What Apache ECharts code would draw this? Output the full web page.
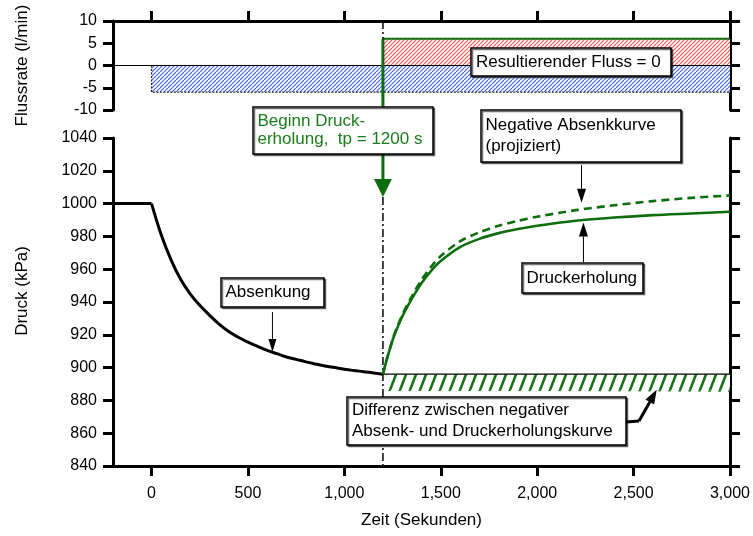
<!DOCTYPE html>
<html>
<head>
<meta charset="utf-8">
<script src="https://cdn.jsdelivr.net/npm/echarts@6/dist/echarts.min.js"></script>
<style>
html,body{margin:0;padding:0;background:#fff}
#c{width:753px;height:536px}
</style>
</head>
<body>
<div id="c"></div>
<script>
// Flow periods in the upper panel (pumping and the imaginary injection after shut-in)
const flowStart = [0, 1200];
const flowEnd = [3000, 3000];
const flowRate = [-6, 6];

// Drawdown while pumping
const staticTime = [-200, 0];
const staticPressure = [1000, 1000];
const drawdownTime = [0, 50, 100, 150, 200, 250, 300, 350, 400, 450, 500, 550, 600, 650, 700, 750, 800, 850, 900, 950, 1000, 1050, 1100, 1150, 1200];
const drawdownPressure = [1000, 981, 966, 954, 945, 938, 932, 926.5, 922, 918.5, 915.5, 913, 910.5, 908.5, 906.5, 905, 903.5, 902.2, 901, 900, 899, 898.2, 897.5, 896.7, 896];

// Recovery after the pump stops, and the projected (negative) drawdown curve
const recoveryTime = [1200, 1220, 1240, 1260, 1300, 1350, 1400, 1450, 1500, 1600, 1700, 1800, 1900, 2000, 2200, 2400, 2600, 2800, 3000];
const recoveryPressure = [896, 905, 913, 920, 931, 942, 951.5, 959, 965, 973.5, 978.5, 982, 984.5, 986.5, 989.5, 991.5, 993, 994, 995];
const projectedPressure = [896, 905, 913, 920.5, 932, 943.5, 953.5, 961.5, 968, 977, 982.5, 986.5, 989.5, 992, 996, 999, 1001.5, 1003.5, 1005];

// Band showing the difference between the two curves
const diffTime = [1220, 1600, 2000, 2400, 2800, 3000];
const diffTop = [896, 896, 896, 896, 896, 896];
const diffBottom = [885.8, 885.7, 885.7, 885.6, 885.5, 885.2];

const xTicks = [0, 500, 1000, 1500, 2000, 2500, 3000];
const pumpStop = 1200;

const FONT = '"Liberation Sans", Arial, Helvetica, sans-serif';
const GREEN = '#0e6e0e';
const TEXT_GREEN = '#1c7c1c';

const pairs = (xs, ys) => xs.map((x, i) => [x, ys[i]]);

// Diagonal hatch tiles used as pattern fills
function hatch(w, h, color, lw) {
  const c = document.createElement('canvas');
  c.width = w; c.height = h;
  const g = c.getContext('2d');
  g.fillStyle = '#fff';
  g.fillRect(0, 0, w, h);
  g.strokeStyle = color;
  g.lineWidth = lw;
  for (const dx of [-w, 0, w]) {
    g.beginPath();
    g.moveTo(dx, h);
    g.lineTo(dx + w, 0);
    g.stroke();
  }
  return { image: c, repeat: 'repeat' };
}
const bluePattern = hatch(4, 4, '#3d62e6', 1.1);
const redPattern = hatch(4, 4, '#ff4d4d', 1.1);
const greenPattern = hatch(10, 26, '#137313', 2.6);

const axisLineStyle = { show: true, onZero: false, lineStyle: { color: '#000', width: 3 } };
const tickStyle = { show: true, length: 10, lineStyle: { color: '#000', width: 3 } };
const labelStyle = { color: '#000', fontSize: 16, fontFamily: FONT };
const nameStyle = { color: '#000', fontSize: 17, fontFamily: FONT };
const plain = v => String(v);

const chart = echarts.init(document.getElementById('c'), null, { renderer: 'canvas' });

chart.setOption({
  animation: false,
  backgroundColor: '#fff',
  grid: [
    { left: 113, right: 23, top: 21, height: 89 },
    { left: 113, right: 23, top: 138, height: 328 }
  ],
  xAxis: [
    {
      gridIndex: 0, type: 'value', position: 'top', min: -200, max: 3000,
      axisLine: axisLineStyle,
      axisTick: Object.assign({ customValues: xTicks }, tickStyle),
      axisLabel: { show: false },
      splitLine: { show: false }
    },
    {
      gridIndex: 1, type: 'value', position: 'bottom', min: -200, max: 3000,
      axisLine: axisLineStyle,
      axisTick: Object.assign({ customValues: xTicks }, tickStyle),
      axisLabel: Object.assign({
        customValues: xTicks, margin: 20,
        formatter: v => Number(v).toLocaleString('en-US')
      }, labelStyle),
      splitLine: { show: false },
      name: 'Zeit (Sekunden)', nameLocation: 'middle', nameGap: 46,
      nameTextStyle: nameStyle
    }
  ],
  yAxis: [
    {
      gridIndex: 0, type: 'value', position: 'left', min: -10, max: 10, interval: 5,
      axisLine: axisLineStyle, axisTick: tickStyle,
      axisLabel: Object.assign({ margin: 16, formatter: plain }, labelStyle),
      splitLine: { show: false },
      name: 'Flussrate (l/min)', nameLocation: 'middle', nameGap: 82,
      nameTextStyle: nameStyle
    },
    {
      gridIndex: 0, type: 'value', position: 'right', min: -10, max: 10, interval: 5,
      axisLine: axisLineStyle, axisTick: tickStyle,
      axisLabel: { show: false }, splitLine: { show: false }
    },
    {
      gridIndex: 1, type: 'value', position: 'left', min: 840, max: 1040, interval: 20,
      axisLine: axisLineStyle, axisTick: tickStyle,
      axisLabel: Object.assign({ margin: 16, formatter: plain }, labelStyle),
      splitLine: { show: false },
      name: 'Druck (kPa)', nameLocation: 'middle', nameGap: 82,
      nameTextStyle: Object.assign({ padding: [0, 0, 0, 22] }, nameStyle)
    },
    {
      gridIndex: 1, type: 'value', position: 'right', min: 840, max: 1040, interval: 20,
      axisLine: axisLineStyle, axisTick: tickStyle,
      axisLabel: { show: false }, splitLine: { show: false }
    }
  ],
  series: [
    // Upper panel: hatched flow blocks
    {
      type: 'custom', xAxisIndex: 0, yAxisIndex: 0, z: 2,
      data: flowStart.map((s, i) => [s, flowEnd[i], flowRate[i]]),
      encode: { x: [0, 1], y: 2 },
      renderItem: (params, api) => {
        const s = api.value(0), e = api.value(1), r = api.value(2);
        const a = api.coord([s, r]);
        const b = api.coord([e, 0]);
        const y = Math.min(a[1], b[1]);
        const h = Math.abs(b[1] - a[1]);
        const children = [{
          type: 'rect',
          shape: { x: a[0], y: y, width: b[0] - a[0], height: h },
          style: { fill: r > 0 ? redPattern : bluePattern }
        }];
        if (r > 0) {
          children.push({
            type: 'line',
            shape: { x1: a[0], y1: a[1], x2: b[0], y2: a[1] },
            style: { stroke: GREEN, lineWidth: 2 }
          });
        } else {
          children.push({
            type: 'polyline',
            shape: { points: [[a[0], b[1]], [a[0], a[1]], [b[0], a[1]]] },
            style: { stroke: '#222', lineWidth: 1.3, lineDash: [2, 1.5], fill: null }
          });
        }
        return { type: 'group', children };
      }
    },
    {
      type: 'line', xAxisIndex: 0, yAxisIndex: 0, z: 3,
      data: [[-200, 0], [3000, 0]], symbol: 'none',
      lineStyle: { color: '#000', width: 1 }
    },
    {
      type: 'line', xAxisIndex: 0, yAxisIndex: 0, z: 3,
      data: [[pumpStop, 10], [pumpStop, -10]], symbol: 'none',
      lineStyle: { color: '#000', width: 1.5, type: [8, 3, 2, 3] }
    },
    // Lower panel: difference band
    {
      type: 'custom', xAxisIndex: 1, yAxisIndex: 2, z: 2,
      data: [[diffTime[0], diffTop[0]]],
      encode: { x: 0, y: 1 },
      renderItem: (params, api) => {
        const top = diffTime.map((t, i) => api.coord([t, diffTop[i]]));
        const bottom = diffTime.map((t, i) => api.coord([t, diffBottom[i]])).reverse();
        return {
          type: 'polygon',
          shape: { points: top.concat(bottom) },
          style: { fill: greenPattern }
        };
      }
    },
    {
      type: 'line', xAxisIndex: 1, yAxisIndex: 2, z: 3,
      data: [[pumpStop, 896], [3000, 896]], symbol: 'none',
      lineStyle: { color: '#000', width: 1.2 }
    },
    {
      type: 'line', xAxisIndex: 1, yAxisIndex: 2, z: 3,
      data: [[pumpStop, 1004], [pumpStop, 840]], symbol: 'none',
      lineStyle: { color: '#000', width: 1.5, type: [8, 3, 2, 3] }
    },
    {
      type: 'line', xAxisIndex: 1, yAxisIndex: 2, z: 4,
      data: pairs(staticTime, staticPressure), symbol: 'none',
      lineStyle: { color: '#000', width: 3 }
    },
    {
      type: 'line', xAxisIndex: 1, yAxisIndex: 2, z: 4,
      data: pairs(drawdownTime, drawdownPressure), symbol: 'none', smooth: 0.4,
      lineStyle: { color: '#000', width: 3 }
    },
    {
      type: 'line', xAxisIndex: 1, yAxisIndex: 2, z: 4,
      data: pairs(recoveryTime, projectedPressure), symbol: 'none', smooth: 0.3,
      lineStyle: { color: GREEN, width: 2.6, type: [8, 5] }
    },
    {
      type: 'line', xAxisIndex: 1, yAxisIndex: 2, z: 5,
      data: pairs(recoveryTime, recoveryPressure), symbol: 'none', smooth: 0.3,
      lineStyle: { color: GREEN, width: 2.6 }
    }
  ]
});

// ----- annotations -----
const up = (t, v) => chart.convertToPixel({ xAxisIndex: 0, yAxisIndex: 0 }, [t, v]);
const lo = (t, v) => chart.convertToPixel({ xAxisIndex: 1, yAxisIndex: 2 }, [t, v]);

function arrow(x1, y1, x2, y2, lw, hl, hw, color, z) {
  const ang = Math.atan2(y2 - y1, x2 - x1);
  const bx = x2 - hl * Math.cos(ang), by = y2 - hl * Math.sin(ang);
  const nx = -Math.sin(ang) * hw / 2, ny = Math.cos(ang) * hw / 2;
  return [
    { type: 'line', z, shape: { x1, y1, x2: bx, y2: by }, style: { stroke: color, lineWidth: lw } },
    { type: 'polygon', z, shape: { points: [[x2, y2], [bx + nx, by + ny], [bx - nx, by - ny]] }, style: { fill: color } }
  ];
}

function box(x, y, w, h, text, color, lh, pad) {
  return [
    {
      type: 'rect', z: 100, shape: { x, y, width: w, height: h },
      style: {
        fill: '#fff', stroke: '#000', lineWidth: 1.5,
        shadowColor: 'rgba(0,0,0,0.55)', shadowOffsetX: 1.5, shadowOffsetY: 1.5, shadowBlur: 0
      }
    },
    {
      type: 'text', z: 101, x: x + pad, y: y + h / 2,
      style: {
        text, fill: color, fontSize: 17, fontFamily: FONT,
        verticalAlign: 'middle', align: 'left', lineHeight: lh
      }
    }
  ];
}

const g = [];

// green marker for the start of recovery
const gTop = up(pumpStop, 6);
const gTip = lo(pumpStop, 1004);
g.push(...arrow(gTop[0], gTop[1], gTip[0], gTip[1], 3, 18, 18, GREEN, 50));

// Absenkung
const tipA = lo(627, 909.5);
g.push(...arrow(tipA[0], 312, tipA[0], tipA[1], 1, 13, 8, '#000', 90));
g.push(...box(221, 278, 103, 29, 'Absenkung', '#000', 20, 4.5));

// Negative Absenkkurve (projiziert)
const tipN = lo(2230, 1000.5);
g.push(...arrow(tipN[0], 165, tipN[0], tipN[1], 1, 14, 9, '#000', 90));
g.push(...box(481, 110, 200, 52, 'Negative Absenkkurve\n(projiziert)', '#000', 20.5, 4.5));

// Druckerholung
const tipD = lo(2240, 988.5);
g.push(...arrow(tipD[0], 262, tipD[0], tipD[1], 1, 14, 9, '#000', 90));
g.push(...box(522, 263, 121, 30, 'Druckerholung', '#000', 20, 4.5));

// Differenz
const tipF = lo(2620, 886.5);
g.push({ type: 'polyline', z: 90, shape: { points: [[626, 422], [639, 421]] }, style: { stroke: '#000', lineWidth: 3, fill: null } });
g.push(...arrow(639, 421, tipF[0], tipF[1], 3, 14, 10, '#000', 90));
g.push(...box(347, 397, 279, 48, 'Differenz zwischen negativer\nAbsenk- und Druckerholungskurve', '#000', 20.5, 5));

// Beginn Druckerholung
g.push(...box(253, 107, 180, 47, 'Beginn Druck-\nerholung,  tp = 1200 s', TEXT_GREEN, 18.5, 4.5));

// Resultierender Fluss
g.push(...box(471, 48, 200, 28, 'Resultierender Fluss = 0', '#000', 20, 5));

chart.setOption({ graphic: { elements: g } });
</script>
</body>
</html>
